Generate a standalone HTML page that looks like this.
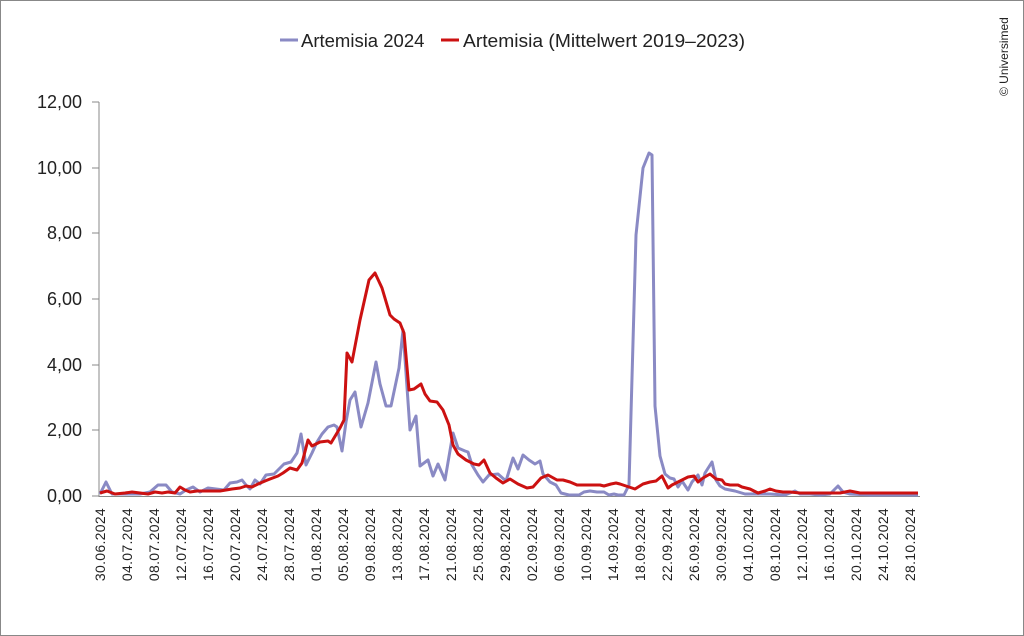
<!DOCTYPE html>
<html><head><meta charset="utf-8"><style>
body{margin:0;background:#fff}
svg{display:block;font-family:"Liberation Sans",sans-serif}
</style></head><body>
<svg width="1024" height="636" viewBox="0 0 1024 636">
<rect x="0.5" y="0.5" width="1023" height="635" fill="#fff" stroke="#888"/>
<g fill="#222" font-size="18.5">
<line x1="280" y1="40" x2="298" y2="40" stroke="#8a8ac4" stroke-width="3"/>
<text x="301" y="47">Artemisia 2024</text>
<line x1="441" y1="40" x2="459" y2="40" stroke="#cc1111" stroke-width="3"/>
<text x="463" y="47" textLength="282" lengthAdjust="spacingAndGlyphs">Artemisia (Mittelwert 2019–2023)</text>
</g>
<text transform="translate(1008,96) rotate(-90)" font-size="12" fill="#222">© Universimed</text>
<g stroke="#888" stroke-width="1">
<line x1="99" y1="102" x2="99" y2="497"/>
<line x1="99" y1="496.5" x2="920" y2="496.5"/>
<line x1="92" y1="102" x2="99" y2="102"/><line x1="92" y1="168" x2="99" y2="168"/><line x1="92" y1="233" x2="99" y2="233"/><line x1="92" y1="299" x2="99" y2="299"/><line x1="92" y1="365" x2="99" y2="365"/><line x1="92" y1="430" x2="99" y2="430"/><line x1="92" y1="496" x2="99" y2="496"/>
</g>
<g font-size="18" fill="#222" text-anchor="end">
<text x="82" y="108">12,00</text><text x="82" y="174">10,00</text><text x="82" y="239">8,00</text><text x="82" y="305">6,00</text><text x="82" y="371">4,00</text><text x="82" y="436">2,00</text><text x="82" y="502">0,00</text>
</g>
<g font-size="14" fill="#222" text-anchor="end" letter-spacing="0.3">
<text transform="translate(105,508) rotate(-90)">30.06.2024</text>
<text transform="translate(132,508) rotate(-90)">04.07.2024</text>
<text transform="translate(159,508) rotate(-90)">08.07.2024</text>
<text transform="translate(186,508) rotate(-90)">12.07.2024</text>
<text transform="translate(213,508) rotate(-90)">16.07.2024</text>
<text transform="translate(240,508) rotate(-90)">20.07.2024</text>
<text transform="translate(267,508) rotate(-90)">24.07.2024</text>
<text transform="translate(294,508) rotate(-90)">28.07.2024</text>
<text transform="translate(321,508) rotate(-90)">01.08.2024</text>
<text transform="translate(348,508) rotate(-90)">05.08.2024</text>
<text transform="translate(375,508) rotate(-90)">09.08.2024</text>
<text transform="translate(402,508) rotate(-90)">13.08.2024</text>
<text transform="translate(429,508) rotate(-90)">17.08.2024</text>
<text transform="translate(456,508) rotate(-90)">21.08.2024</text>
<text transform="translate(483,508) rotate(-90)">25.08.2024</text>
<text transform="translate(510,508) rotate(-90)">29.08.2024</text>
<text transform="translate(537,508) rotate(-90)">02.09.2024</text>
<text transform="translate(564,508) rotate(-90)">06.09.2024</text>
<text transform="translate(591,508) rotate(-90)">10.09.2024</text>
<text transform="translate(618,508) rotate(-90)">14.09.2024</text>
<text transform="translate(645,508) rotate(-90)">18.09.2024</text>
<text transform="translate(672,508) rotate(-90)">22.09.2024</text>
<text transform="translate(699,508) rotate(-90)">26.09.2024</text>
<text transform="translate(726,508) rotate(-90)">30.09.2024</text>
<text transform="translate(753,508) rotate(-90)">04.10.2024</text>
<text transform="translate(780,508) rotate(-90)">08.10.2024</text>
<text transform="translate(807,508) rotate(-90)">12.10.2024</text>
<text transform="translate(834,508) rotate(-90)">16.10.2024</text>
<text transform="translate(861,508) rotate(-90)">20.10.2024</text>
<text transform="translate(888,508) rotate(-90)">24.10.2024</text>
<text transform="translate(915,508) rotate(-90)">28.10.2024</text>
</g>
<polyline fill="none" stroke="#8a8ac4" stroke-width="3" stroke-linejoin="round" points="100,494 106,482 112,494 120,494 130,494 140,494 150,492 158,485 166,485 172,492 180,494 186,490 193,487 200,492 208,488 216,489 224,490 230,483 237,482 242,480 246,485 250,489 255,480 260,484 266,475 274,474 280,468 284,464 291,462 297,453 301,434 306,465 312,453 317,442 322,434 328,427 334,425 337,427 342,451 346,422 350,400 355,392 361,427 368,403 376,362 380,384 386,406 391,406 399,368 403,330 410,430 416,416 420,466 428,460 433,476 438,464 445,480 453,433 458,448 465,451 468,452 472,465 478,475 483,482 489,475 498,474 506,481 513,458 518,469 523,455 529,460 535,464 540,461 543,474 550,482 556,485 561,493 569,495 579,495 584,492 590,491 597,492 604,492 609,495 614,494 618,495 624,495 629,485 636,235 643,168 649,153 652,155 655,406 660,456 665,474 670,478 674,479 678,487 682,481 688,490 692,482 698,475 702,485 705,473 712,462 716,480 720,486 725,489 735,491 745,494 760,494 770,494 785,495 795,491 800,494 810,494 820,495 830,494 838,486 843,492 850,494 870,495 900,495 918,495"/>
<polyline fill="none" stroke="#cc1111" stroke-width="3" stroke-linejoin="round" points="100,493 107,491 115,494 125,493 132,492 140,493 148,494 155,492 162,493 168,492 175,493 180,487 185,490 190,492 197,491 205,491 212,491 220,491 226,490 232,489 240,488 246,486 252,487 258,484 265,481 270,479 278,476 283,473 290,468 297,470 302,463 308,440 312,446 320,442 328,441 331,443 340,428 344,420 347,353 352,362 360,320 369,280 375,273 382,288 390,315 394,319 400,323 404,333 409,390 414,389 421,384 425,394 430,401 437,402 443,410 449,425 453,445 458,454 466,460 474,464 479,465 484,460 490,473 496,478 503,483 510,479 518,484 527,488 533,487 541,478 548,475 557,480 563,480 570,482 577,485 590,485 600,485 604,486 611,484 616,483 620,484 626,486 635,489 643,484 650,482 656,481 662,476 668,488 672,485 678,482 688,477 694,476 698,482 703,478 710,474 716,479 722,480 725,484 730,485 738,485 742,487 750,489 758,493 765,491 770,489 776,491 783,492 790,492 800,493 820,493 840,493 850,491 860,493 880,493 918,493"/>
</svg>
</body></html>
